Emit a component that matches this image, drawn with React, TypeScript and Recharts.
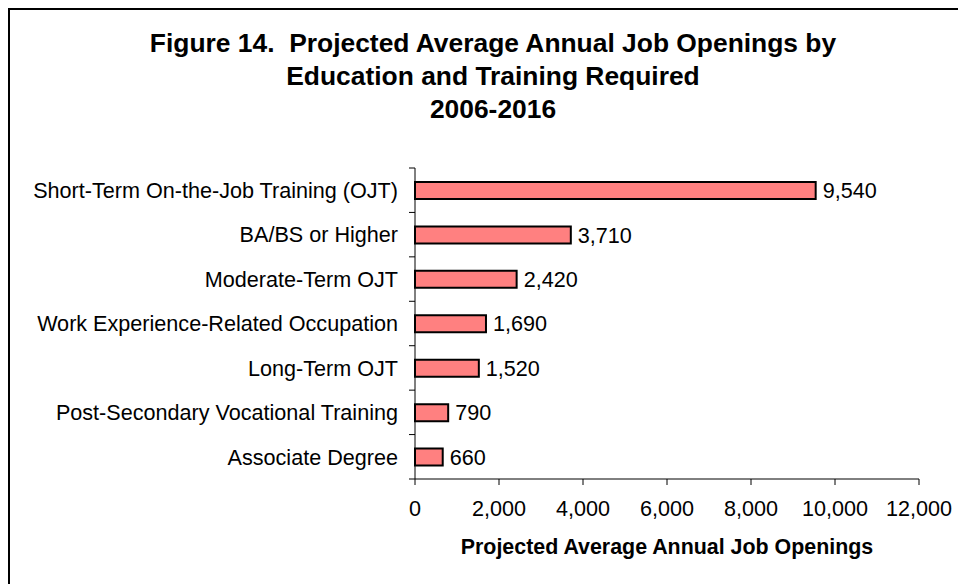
import React from "react";
import { BarChart, Bar, XAxis, YAxis, LabelList } from "recharts";

const categories = [
  "Short-Term On-the-Job Training (OJT)",
  "BA/BS or Higher",
  "Moderate-Term OJT",
  "Work Experience-Related Occupation",
  "Long-Term OJT",
  "Post-Secondary Vocational Training",
  "Associate Degree",
];
const openings = [9540, 3710, 2420, 1690, 1520, 790, 660];
const xTicks = [0, 2000, 4000, 6000, 8000, 10000, 12000];

const data = categories.map((name, i) => ({ name, openings: openings[i] }));

const FONT = "'Liberation Sans', Arial, sans-serif";
const TICK_FS = 21.6;
const fmt = (v: any) => Number(v).toLocaleString("en-US");

// Excel-style category axis: label centered on the band, tick marks on band edges
const CategoryTick = (props: any) => {
  const { x, y, payload, index } = props;
  const half = payload.offset || 22.2;
  const ax = x + 17; // axis line position (tickSize + tickMargin)
  return (
    <g>
      <line x1={ax - 6} x2={ax} y1={y - half} y2={y - half} stroke="#000" strokeWidth={1} />
      {index === categories.length - 1 && (
        <line x1={ax - 6} x2={ax} y1={y + half} y2={y + half} stroke="#000" strokeWidth={1} />
      )}
      <text x={x} y={y} dy="0.36em" textAnchor="end" fontSize={TICK_FS} fill="#000" fontFamily={FONT}>
        {payload.value}
      </text>
    </g>
  );
};

export default function App() {
  return (
    <div
      style={{
        position: "relative",
        width: 956,
        height: 574,
        borderLeft: "2px solid #000",
        borderTop: "2px solid #000",
        background: "#fff",
        fontFamily: FONT,
      }}
    >
      <div
        style={{
          position: "absolute",
          left: 0,
          top: 17,
          width: 966,
          textAlign: "center",
          fontSize: 26.4,
          lineHeight: "33px",
          fontWeight: "bold",
          color: "#000",
        }}
      >
        <div>Figure 14.&nbsp; Projected Average Annual Job Openings by</div>
        <div>Education and Training Required</div>
        <div>2006-2016</div>
      </div>
      <BarChart
        width={950}
        height={570}
        data={data}
        layout="vertical"
        margin={{ top: 158, right: 41, left: 0, bottom: 11 }}
        style={{ position: "absolute", left: 0, top: 0 }}
      >
        <XAxis
          type="number"
          domain={[0, 12000]}
          ticks={xTicks}
          tickFormatter={fmt}
          height={90}
          stroke="#000"
          tickSize={6}
          tickMargin={16}
          tick={{ fontSize: TICK_FS, fill: "#000", fontFamily: FONT }}
          label={{
            value: "Projected Average Annual Job Openings",
            position: "insideBottom",
            offset: 15,
            fontSize: 21.4,
            fontWeight: "bold",
            fill: "#000",
            fontFamily: FONT,
          }}
        />
        <YAxis
          type="category"
          dataKey="name"
          width={405}
          stroke="#000"
          tickLine={false}
          tickSize={6}
          tickMargin={11}
          tick={<CategoryTick />}
          interval={0}
        />
        <Bar dataKey="openings" fill="#FF8080" stroke="#000" strokeWidth={2} barSize={17} isAnimationActive={false}>
          <LabelList
            dataKey="openings"
            position="right"
            offset={7}
            formatter={fmt}
            fontSize={TICK_FS}
            fill="#000"
            fontFamily={FONT}
          />
        </Bar>
      </BarChart>
    </div>
  );
}
